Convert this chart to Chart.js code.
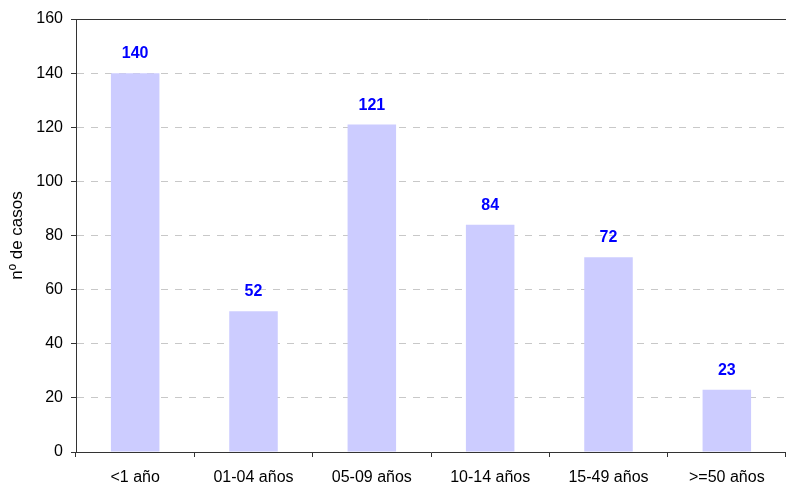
<!DOCTYPE html>
<html><head><meta charset="utf-8">
<script src="https://cdn.jsdelivr.net/npm/chart.js@4/dist/chart.umd.min.js"></script>
<style>html,body{margin:0;padding:0;background:#fff}#wrap{width:786px;height:483px}</style>
</head><body><div id="wrap"><canvas id="c" width="786" height="483"></canvas></div>
<script>
const categories = ["<1 año","01-04 años","05-09 años","10-14 años","15-49 años",">=50 años"];
const casos = [140,52,121,84,72,23];
const yTicks = [0,20,40,60,80,100,120,140,160];

const labelPlugin = {
  id:'labels',
  afterDatasetsDraw(chart){
    const ctx = chart.ctx;
    const meta = chart.getDatasetMeta(0);
    ctx.save();
    ctx.font = 'bold 16px "Liberation Sans", Arial, sans-serif';
    ctx.fillStyle = '#0000FF';
    ctx.textAlign = 'center';
    ctx.textBaseline = 'alphabetic';
    meta.data.forEach((bar,i)=>{
      ctx.fillText(String(casos[i]), bar.x, bar.y - 15);
    });
    ctx.restore();
  }
};
const topLine = {
  id:'topLine',
  afterDraw(chart){
    const {ctx, chartArea} = chart;
    ctx.save();
    ctx.strokeStyle = '#333';
    ctx.lineWidth = 1;
    ctx.beginPath();
    ctx.moveTo(chartArea.left - 5, chartArea.top + 0.5);
    ctx.lineTo(chartArea.right, chartArea.top + 0.5);
    ctx.stroke();
    ctx.restore();
  }
};

new Chart(document.getElementById('c'), {
  type:'bar',
  data:{labels:categories, datasets:[{data:casos, backgroundColor:'#CCCCFF', borderWidth:0, categoryPercentage:0.41, barPercentage:1}]},
  options:{
    responsive:false, animation:false,
    layout:{padding:{top:19,right:0,left:7,bottom:0}},
    plugins:{legend:{display:false}, tooltip:{enabled:false}},
    scales:{
      x:{
        offset:true,
        grid:{display:true, drawOnChartArea:false, offset:true, tickLength:5, color:'#333', tickColor:'#333'},
        border:{display:true, color:'#333', width:1},
        ticks:{color:'#000', font:{family:'"Liberation Sans", Arial, sans-serif', size:16}, padding:11, maxRotation:0},
        afterFit(s){ s.height = 31; }
      },
      y:{
        min:0, max:160,
        afterBuildTicks(s){ s.ticks = yTicks.map(v=>({value:v})); },
        grid:{color:'#C8C8C8', tickColor:'#333', tickLength:5, tickBorderDash:[]},
        border:{display:true, color:'#333', width:1, dash:[7,7]},
        ticks:{color:'#000', font:{family:'"Liberation Sans", Arial, sans-serif', size:16}, padding:8},
        title:{display:true, text:'nº de casos', color:'#000', font:{family:'"Liberation Sans", Arial, sans-serif', size:17}, padding:{top:0,bottom:4}},
        afterFit(s){ s.width = 69; }
      }
    }
  },
  plugins:[labelPlugin, topLine]
});
</script></body></html>
